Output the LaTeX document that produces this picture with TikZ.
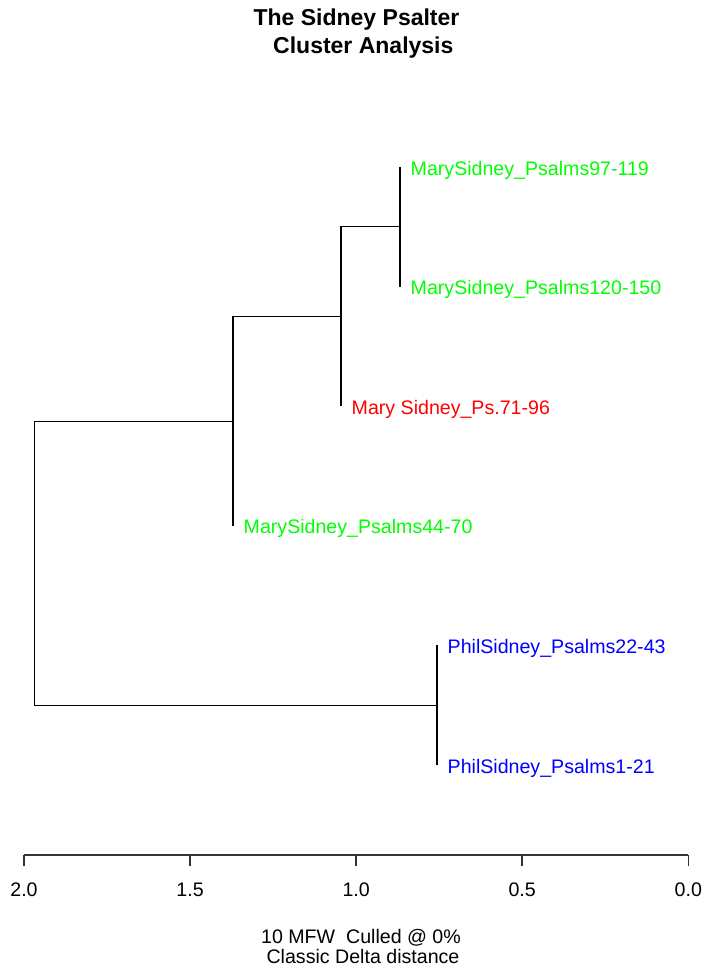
\documentclass[tikz,border=0pt]{standalone}
\usepackage{fontspec}
\setmainfont{Liberation Sans}
\definecolor{rgreen}{RGB}{0,255,0}
\definecolor{rred}{RGB}{255,0,0}
\definecolor{rblue}{RGB}{0,0,255}
\begin{document}
\begin{tikzpicture}[x=1pt,y=-1pt,
  tree/.style={draw=black,line width=1.1pt},
  axisline/.style={draw=black!80,line width=1.6pt},
  leaflab/.style={anchor=base west,inner sep=0pt,xshift=10.5pt,yshift=-8pt,font=\fontsize{19.6}{19.6}\selectfont},
  ticklab/.style={anchor=base,inner sep=0pt,font=\fontsize{19.6}{19.6}\selectfont},
  titlelab/.style={anchor=base,inner sep=0pt,font=\fontsize{23}{23}\selectfont\bfseries}]
\useasboundingbox (0,0) rectangle (703,970);
% title
\node[titlelab] (title1) at (356.5,25) {The Sidney Psalter};
\node[titlelab,anchor=base west] (title2) at (273,53.5) {Cluster Analysis};
% leaf tips
\coordinate (t1) at (400,167);
\coordinate (t2) at (400,286.6);
\coordinate (t3) at (341,406.2);
\coordinate (t4) at (233,525.8);
\coordinate (t5) at (437,645.4);
\coordinate (t6) at (437,765);
% merge points
\coordinate (m1) at (400,226.8);
\coordinate (m2) at (341,316.5);
\coordinate (m3) at (233,421.2);
\coordinate (m4) at (437,705.2);
\coordinate (rb) at (34.5,705.2);
% tree
\draw[tree] (t1) -- (t2);
\draw[tree] (m1) -| (t3);
\draw[tree] (m2) -| (t4);
\draw[tree] (m3) -| (rb) -- (m4);
\draw[tree] (t5) -- (t6);
% labels
\node[leaflab,text=rgreen] (l1) at (t1) {MarySidney\_Psalms97-119};
\node[leaflab,text=rgreen] (l2) at (t2) {MarySidney\_Psalms120-150};
\node[leaflab,text=rred] (l3) at (t3) {Mary Sidney\_Ps.71-96};
\node[leaflab,text=rgreen] (l4) at (t4) {MarySidney\_Psalms44-70};
\node[leaflab,text=rblue] (l5) at (t5) {PhilSidney\_Psalms22-43};
\node[leaflab,text=rblue] (l6) at (t6) {PhilSidney\_Psalms1-21};
% axis
\coordinate (a20) at (24,855);
\coordinate (a15) at (190.1,855);
\coordinate (a10) at (356.2,855);
\coordinate (a05) at (522.2,855);
\coordinate (a00) at (688.3,855);
\draw[axisline] (a20) -- (a00);
\foreach \p/\v in {a20/2.0,a15/1.5,a10/1.0,a05/0.5,a00/0.0}{
  \draw[axisline] (\p) -- ++(0,11);
  \node[ticklab] at ([yshift=-41.5pt]\p) {\v};
}
\node[ticklab] (x1) at (361,943) {10 MFW\ \ Culled @ 0\%};
\node[ticklab] (x2) at (363,963) {Classic Delta distance};
\end{tikzpicture}
\end{document}
